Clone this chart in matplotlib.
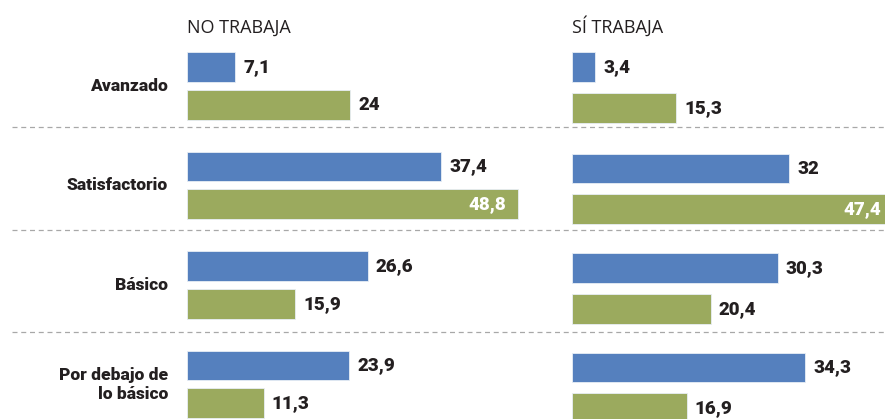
import matplotlib.pyplot as plt

categories = ["Avanzado", "Satisfactorio", "Básico", "Por debajo de\nlo básico"]
panels = ["NO TRABAJA", "SÍ TRABAJA"]
blue_vals = [[7.1, 37.4, 26.6, 23.9], [3.4, 32, 30.3, 34.3]]
green_vals = [[24, 48.8, 15.9, 11.3], [15.3, 47.4, 20.4, 16.9]]

blue = "#5580be"
green = "#9baa5e"
dark = "#231f20"
cond = ["Roboto", "DejaVu Sans"]

W, H = 885, 419
fig = plt.figure(figsize=(W / 100, H / 100), dpi=100)

px = 6.79      # pixels per unit
unit = 99.5    # pixels per row
top = 0.864    # row 0 center in row units from top
xmax = 56

def fmt(v):
    s = ("%g" % v).replace(".", ",")
    return s

for p, x0 in enumerate([187, 572]):
    ax = fig.add_axes([x0 / W, 0, xmax * px / W, 1])
    ax.set_xlim(0, xmax)
    ax.set_ylim(H / unit - top, -top)
    ax.axis("off")
    ys = list(range(len(categories)))
    for vals, off, col in [(blue_vals[p], -0.19, blue), (green_vals[p], 0.19 + 0.03 * p, green)]:
        yy = [y + off + 0.02 * p * (y > 0) for y in ys]
        ax.barh(yy, vals, height=0.30, color=col, edgecolor="#e8eef5", linewidth=0.6)
        for y, v in zip(yy, vals):
            if v > 45:
                ax.text(v - 1.8, y, fmt(v), ha="right", va="center", color="white",
                        fontsize=13.5, fontweight="black", family=cond)
            else:
                ax.text(v + 1.2, y, fmt(v), ha="left", va="center", color=dark,
                        fontsize=13.5, fontweight="black", family=cond)
    ax.text(0, -0.53, panels[p], ha="left", va="baseline", color=dark, fontsize=13,
            family=["Open Sans", "DejaVu Sans"])
    if p == 0:
        for y, c in zip(ys, categories):
            ax.text(-2.8, y, c, ha="right", va="center", color=dark, fontsize=12.5,
                    fontweight="black", family=cond, linespacing=1.3)
        for d in [0.41, 1.45, 2.47]:
            ax.axhline(d, xmin=(12 - x0) / (xmax * px), xmax=(W - x0) / (xmax * px),
                       color="#a8a8a8", linestyle=(0, (4, 3)), linewidth=0.9, clip_on=False)

fig.savefig("out.png", dpi=100)
